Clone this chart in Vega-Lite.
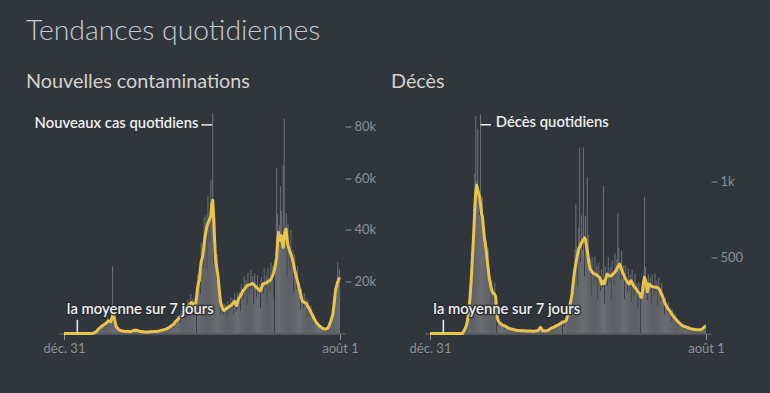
{
  "$schema": "https://vega.github.io/schema/vega-lite/v6.json",
  "background": "#31353c",
  "padding": {"left": 26, "right": 28, "top": 16.5, "bottom": 38},
  "title": {"text": "Tendances quotidiennes", "anchor": "start", "font": "Lato", "fontSize": 28.4, "fontWeight": 300, "color": "#c6cbd3", "offset": 25.5},
  "bounds": "flush",
  "spacing": 80,
  "data": {"values": [
{"date":"2019-12-31","cas":0,"cas7":0,"deces":0,"deces7":0},
{"date":"2020-01-30","cas":0,"cas7":0,"deces":0,"deces7":0},
{"date":"2020-02-27","cas":0,"cas7":0,"deces":0,"deces7":0},
{"date":"2020-02-29","cas":100,"cas7":100,"deces":0,"deces7":0},
{"date":"2020-03-02","cas":100,"cas7":200,"deces":0,"deces7":0},
{"date":"2020-03-04","cas":400,"cas7":300,"deces":0,"deces7":0},
{"date":"2020-03-06","cas":500,"cas7":500,"deces":0,"deces7":0},
{"date":"2020-03-08","cas":600,"cas7":800,"deces":0,"deces7":0},
{"date":"2020-03-10","cas":1600,"cas7":1200,"deces":14,"deces7":12},
{"date":"2020-03-12","cas":1500,"cas7":1700,"deces":13,"deces7":22},
{"date":"2020-03-14","cas":2300,"cas7":2000,"deces":44,"deces7":35},
{"date":"2020-03-16","cas":1400,"cas7":2300,"deces":50,"deces7":50},
{"date":"2020-03-18","cas":3300,"cas7":2600,"deces":60,"deces7":75},
{"date":"2020-03-20","cas":2900,"cas7":2900,"deces":143,"deces7":110},
{"date":"2020-03-22","cas":2600,"cas7":3200,"deces":144,"deces7":160},
{"date":"2020-03-24","cas":4400,"cas7":3400,"deces":273,"deces7":237},
{"date":"2020-03-26","cas":3200,"cas7":3600,"deces":198,"deces7":330},
{"date":"2020-03-28","cas":4500,"cas7":3900,"deces":550,"deces7":440},
{"date":"2020-03-30","cas":2600,"cas7":4300,"deces":560,"deces7":560},
{"date":"2020-04-01","cas":5900,"cas7":4700,"deces":850,"deces7":680},
{"date":"2020-04-03","cas":4900,"cas7":4900,"deces":1050,"deces7":820},
{"date":"2020-04-05","cas":3700,"cas7":4600,"deces":1430,"deces7":930},
{"date":"2020-04-07","cas":5900,"cas7":4500,"deces":1000,"deces7":975},
{"date":"2020-04-09","cas":5000,"cas7":5500,"deces":1347,"deces7":950},
{"date":"2020-04-11","cas":26000,"cas7":7000,"deces":920,"deces7":920},
{"date":"2020-04-13","cas":4600,"cas7":7700,"deces":780,"deces7":900},
{"date":"2020-04-15","cas":6900,"cas7":5500,"deces":1440,"deces7":850},
{"date":"2020-04-17","cas":3800,"cas7":3800,"deces":760,"deces7":790},
{"date":"2020-04-19","cas":2100,"cas7":2600,"deces":900,"deces7":770},
{"date":"2020-04-21","cas":2700,"cas7":2100,"deces":640,"deces7":700},
{"date":"2020-04-23","cas":1500,"cas7":1700,"deces":700,"deces7":632},
{"date":"2020-04-25","cas":1600,"cas7":1400,"deces":560,"deces7":590},
{"date":"2020-04-27","cas":700,"cas7":1200,"deces":610,"deces7":544},
{"date":"2020-04-29","cas":1400,"cas7":1100,"deces":520,"deces7":480},
{"date":"2020-05-01","cas":1000,"cas7":1000,"deces":559,"deces7":430},
{"date":"2020-05-03","cas":700,"cas7":900,"deces":331,"deces7":368},
{"date":"2020-05-05","cas":1200,"cas7":900,"deces":385,"deces7":335},
{"date":"2020-05-07","cas":700,"cas7":800,"deces":182,"deces7":303},
{"date":"2020-05-09","cas":900,"cas7":800,"deces":350,"deces7":280},
{"date":"2020-05-11","cas":500,"cas7":800,"deces":268,"deces7":268},
{"date":"2020-05-13","cas":1100,"cas7":900,"deces":210,"deces7":262},
{"date":"2020-05-15","cas":800,"cas7":800,"deces":332,"deces7":255},
{"date":"2020-05-17","cas":600,"cas7":700,"deces":216,"deces7":240},
{"date":"2020-05-19","cas":1000,"cas7":800,"deces":0,"deces7":130},
{"date":"2020-05-21","cas":800,"cas7":900,"deces":57,"deces7":95},
{"date":"2020-05-23","cas":1200,"cas7":1000,"deces":98,"deces7":78},
{"date":"2020-05-25","cas":700,"cas7":1200,"deces":70,"deces7":70},
{"date":"2020-05-27","cas":1600,"cas7":1300,"deces":52,"deces7":65},
{"date":"2020-05-29","cas":1100,"cas7":1100,"deces":78,"deces7":60},
{"date":"2020-05-31","cas":1000,"cas7":1300,"deces":50,"deces7":56},
{"date":"2020-06-02","cas":1600,"cas7":1200,"deces":61,"deces7":53},
{"date":"2020-06-04","cas":900,"cas7":1000,"deces":30,"deces7":50},
{"date":"2020-06-06","cas":1000,"cas7":900,"deces":60,"deces7":48},
{"date":"2020-06-08","cas":500,"cas7":800,"deces":45,"deces7":45},
{"date":"2020-06-10","cas":1000,"cas7":800,"deces":32,"deces7":40},
{"date":"2020-06-12","cas":700,"cas7":700,"deces":48,"deces7":37},
{"date":"2020-06-14","cas":600,"cas7":700,"deces":32,"deces7":35},
{"date":"2020-06-16","cas":800,"cas7":600,"deces":37,"deces7":32},
{"date":"2020-06-18","cas":500,"cas7":600,"deces":18,"deces7":30},
{"date":"2020-06-20","cas":700,"cas7":600,"deces":36,"deces7":29},
{"date":"2020-06-22","cas":400,"cas7":600,"deces":27,"deces7":27},
{"date":"2020-06-24","cas":800,"cas7":600,"deces":20,"deces7":25},
{"date":"2020-06-26","cas":600,"cas7":600,"deces":31,"deces7":24},
{"date":"2020-06-28","cas":600,"cas7":700,"deces":20,"deces7":22},
{"date":"2020-06-30","cas":900,"cas7":700,"deces":24,"deces7":21},
{"date":"2020-07-02","cas":600,"cas7":700,"deces":12,"deces7":20},
{"date":"2020-07-04","cas":800,"cas7":700,"deces":24,"deces7":19},
{"date":"2020-07-06","cas":500,"cas7":800,"deces":19,"deces7":19},
{"date":"2020-07-08","cas":1000,"cas7":800,"deces":14,"deces7":18},
{"date":"2020-07-10","cas":800,"cas7":800,"deces":26,"deces7":20},
{"date":"2020-07-12","cas":600,"cas7":800,"deces":17,"deces7":19},
{"date":"2020-07-14","cas":1200,"cas7":900,"deces":21,"deces7":18},
{"date":"2020-07-16","cas":800,"cas7":900,"deces":11,"deces7":18},
{"date":"2020-07-18","cas":1200,"cas7":1000,"deces":23,"deces7":18},
{"date":"2020-07-20","cas":700,"cas7":1100,"deces":17,"deces7":17},
{"date":"2020-07-22","cas":1500,"cas7":1200,"deces":14,"deces7":17},
{"date":"2020-07-24","cas":1300,"cas7":1300,"deces":22,"deces7":17},
{"date":"2020-07-26","cas":1100,"cas7":1400,"deces":14,"deces7":16},
{"date":"2020-07-28","cas":2000,"cas7":1500,"deces":18,"deces7":16},
{"date":"2020-07-30","cas":1400,"cas7":1600,"deces":10,"deces7":16},
{"date":"2020-08-01","cas":2000,"cas7":1700,"deces":19,"deces7":15},
{"date":"2020-08-03","cas":1100,"cas7":1900,"deces":15,"deces7":15},
{"date":"2020-08-05","cas":2600,"cas7":2100,"deces":12,"deces7":15},
{"date":"2020-08-07","cas":2300,"cas7":2300,"deces":21,"deces7":16},
{"date":"2020-08-09","cas":2000,"cas7":2500,"deces":15,"deces7":17},
{"date":"2020-08-11","cas":3600,"cas7":2800,"deces":21,"deces7":18},
{"date":"2020-08-13","cas":2700,"cas7":3000,"deces":12,"deces7":20},
{"date":"2020-08-15","cas":3800,"cas7":3300,"deces":31,"deces7":25},
{"date":"2020-08-17","cas":2200,"cas7":3700,"deces":35,"deces7":35},
{"date":"2020-08-19","cas":5100,"cas7":4100,"deces":32,"deces7":40},
{"date":"2020-08-21","cas":4500,"cas7":4500,"deces":39,"deces7":30},
{"date":"2020-08-23","cas":3900,"cas7":4900,"deces":18,"deces7":20},
{"date":"2020-08-25","cas":6900,"cas7":5300,"deces":21,"deces7":18},
{"date":"2020-08-27","cas":5100,"cas7":5700,"deces":10,"deces7":17},
{"date":"2020-08-29","cas":7000,"cas7":6100,"deces":23,"deces7":18},
{"date":"2020-08-31","cas":3900,"cas7":6500,"deces":19,"deces7":19},
{"date":"2020-09-02","cas":8500,"cas7":6800,"deces":16,"deces7":20},
{"date":"2020-09-04","cas":7300,"cas7":7300,"deces":29,"deces7":22},
{"date":"2020-09-06","cas":6200,"cas7":7800,"deces":23,"deces7":26},
{"date":"2020-09-08","cas":10900,"cas7":8400,"deces":35,"deces7":30},
{"date":"2020-09-10","cas":8100,"cas7":9000,"deces":20,"deces7":34},
{"date":"2020-09-12","cas":11000,"cas7":9600,"deces":46,"deces7":37},
{"date":"2020-09-14","cas":6100,"cas7":10100,"deces":40,"deces7":40},
{"date":"2020-09-16","cas":13100,"cas7":10500,"deces":34,"deces7":42},
{"date":"2020-09-18","cas":10900,"cas7":10900,"deces":59,"deces7":45},
{"date":"2020-09-20","cas":9000,"cas7":11300,"deces":43,"deces7":48},
{"date":"2020-09-22","cas":15300,"cas7":11800,"deces":60,"deces7":52},
{"date":"2020-09-24","cas":10800,"cas7":12000,"deces":33,"deces7":55},
{"date":"2020-09-26","cas":13300,"cas7":11600,"deces":73,"deces7":58},
{"date":"2020-09-28","cas":6500,"cas7":10800,"deces":62,"deces7":62},
{"date":"2020-09-30","cas":12500,"cas7":10000,"deces":53,"deces7":66},
{"date":"2020-10-02","cas":11500,"cas7":11500,"deces":91,"deces7":70},
{"date":"2020-10-04","cas":0,"cas7":14000,"deces":0,"deces7":74},
{"date":"2020-10-06","cas":22800,"cas7":17500,"deces":87,"deces7":76},
{"date":"2020-10-08","cas":17600,"cas7":19500,"deces":47,"deces7":78},
{"date":"2020-10-10","cas":23600,"cas7":20500,"deces":100,"deces7":80},
{"date":"2020-10-12","cas":15000,"cas7":25000,"deces":88,"deces7":88},
{"date":"2020-10-14","cas":35000,"cas7":28000,"deces":88,"deces7":110},
{"date":"2020-10-16","cas":29000,"cas7":29000,"deces":176,"deces7":135},
{"date":"2020-10-18","cas":25200,"cas7":31500,"deces":149,"deces7":165},
{"date":"2020-10-20","cas":44900,"cas7":34500,"deces":224,"deces7":195},
{"date":"2020-10-22","cas":33800,"cas7":37500,"deces":135,"deces7":225},
{"date":"2020-10-24","cas":45700,"cas7":39700,"deces":328,"deces7":262},
{"date":"2020-10-26","cas":24900,"cas7":41500,"deces":320,"deces7":320},
{"date":"2020-10-28","cas":53100,"cas7":42500,"deces":304,"deces7":380},
{"date":"2020-10-30","cas":43500,"cas7":43500,"deces":553,"deces7":425},
{"date":"2020-11-01","cas":35400,"cas7":44300,"deces":853,"deces7":460},
{"date":"2020-11-03","cas":59200,"cas7":45500,"deces":569,"deces7":495},
{"date":"2020-11-05","cas":45000,"cas7":50000,"deces":315,"deces7":525},
{"date":"2020-11-07","cas":85000,"cas7":51500,"deces":694,"deces7":555},
{"date":"2020-11-09","cas":27000,"cas7":45000,"deces":1224,"deces7":570},
{"date":"2020-11-11","cas":45000,"cas7":36000,"deces":468,"deces7":585},
{"date":"2020-11-13","cas":28000,"cas7":28000,"deces":777,"deces7":598},
{"date":"2020-11-15","cas":20800,"cas7":26000,"deces":549,"deces7":610},
{"date":"2020-11-17","cas":30600,"cas7":23500,"deces":1224,"deces7":620},
{"date":"2020-11-19","cas":18500,"cas7":20500,"deces":378,"deces7":630},
{"date":"2020-11-21","cas":19000,"cas7":16500,"deces":775,"deces7":620},
{"date":"2020-11-23","cas":7600,"cas7":12600,"deces":580,"deces7":580},
{"date":"2020-11-25","cas":13800,"cas7":11000,"deces":1026,"deces7":544},
{"date":"2020-11-27","cas":10000,"cas7":10000,"deces":650,"deces7":500},
{"date":"2020-11-29","cas":7400,"cas7":9300,"deces":410,"deces7":455},
{"date":"2020-12-01","cas":11600,"cas7":8900,"deces":489,"deces7":425},
{"date":"2020-12-03","cas":8300,"cas7":9200,"deces":249,"deces7":415},
{"date":"2020-12-05","cas":11000,"cas7":9600,"deces":506,"deces7":405},
{"date":"2020-12-07","cas":5900,"cas7":9800,"deces":398,"deces7":398},
{"date":"2020-12-09","cas":12500,"cas7":10000,"deces":314,"deces7":393},
{"date":"2020-12-11","cas":10300,"cas7":10300,"deces":508,"deces7":391},
{"date":"2020-12-13","cas":8500,"cas7":10600,"deces":349,"deces7":388},
{"date":"2020-12-15","cas":14000,"cas7":10800,"deces":442,"deces7":384},
{"date":"2020-12-17","cas":9900,"cas7":11000,"deces":227,"deces7":378},
{"date":"2020-12-19","cas":13200,"cas7":11500,"deces":465,"deces7":372},
{"date":"2020-12-21","cas":7200,"cas7":12000,"deces":368,"deces7":368},
{"date":"2020-12-23","cas":15500,"cas7":12400,"deces":280,"deces7":350},
{"date":"2020-12-25","cas":11500,"cas7":11500,"deces":423,"deces7":325},
{"date":"2020-12-27","cas":8600,"cas7":10800,"deces":302,"deces7":335},
{"date":"2020-12-29","cas":15900,"cas7":12200,"deces":972,"deces7":345},
{"date":"2020-12-31","cas":12000,"cas7":13300,"deces":198,"deces7":330},
{"date":"2021-01-02","cas":16000,"cas7":13900,"deces":438,"deces7":350},
{"date":"2021-01-04","cas":8800,"cas7":14600,"deces":375,"deces7":375},
{"date":"2021-01-06","cas":19000,"cas7":15200,"deces":313,"deces7":391},
{"date":"2021-01-08","cas":16000,"cas7":16000,"deces":501,"deces7":385},
{"date":"2021-01-10","cas":13300,"cas7":16600,"deces":342,"deces7":380},
{"date":"2021-01-12","cas":22100,"cas7":17000,"deces":435,"deces7":378},
{"date":"2021-01-14","cas":15800,"cas7":17500,"deces":228,"deces7":380},
{"date":"2021-01-16","cas":20700,"cas7":18000,"deces":480,"deces7":384},
{"date":"2021-01-18","cas":11100,"cas7":18500,"deces":390,"deces7":390},
{"date":"2021-01-20","cas":23400,"cas7":18700,"deces":318,"deces7":398},
{"date":"2021-01-22","cas":18800,"cas7":18800,"deces":527,"deces7":405},
{"date":"2021-01-24","cas":15100,"cas7":18900,"deces":371,"deces7":412},
{"date":"2021-01-26","cas":24700,"cas7":19000,"deces":489,"deces7":425},
{"date":"2021-01-28","cas":17300,"cas7":19200,"deces":788,"deces7":438},
{"date":"2021-01-30","cas":22200,"cas7":19300,"deces":563,"deces7":450},
{"date":"2021-02-01","cas":11400,"cas7":19000,"deces":456,"deces7":456},
{"date":"2021-02-03","cas":23300,"cas7":18600,"deces":352,"deces7":440},
{"date":"2021-02-05","cas":18200,"cas7":18200,"deces":546,"deces7":420},
{"date":"2021-02-07","cas":14200,"cas7":17800,"deces":360,"deces7":400},
{"date":"2021-02-09","cas":22600,"cas7":17400,"deces":449,"deces7":390},
{"date":"2021-02-11","cas":15300,"cas7":17000,"deces":225,"deces7":375},
{"date":"2021-02-13","cas":19100,"cas7":16600,"deces":450,"deces7":360},
{"date":"2021-02-15","cas":9900,"cas7":16500,"deces":350,"deces7":350},
{"date":"2021-02-17","cas":21800,"cas7":17400,"deces":272,"deces7":340},
{"date":"2021-02-19","cas":18600,"cas7":18600,"deces":429,"deces7":330},
{"date":"2021-02-21","cas":15400,"cas7":19200,"deces":293,"deces7":325},
{"date":"2021-02-23","cas":25100,"cas7":19300,"deces":391,"deces7":340},
{"date":"2021-02-25","cas":17500,"cas7":19400,"deces":208,"deces7":347},
{"date":"2021-02-27","cas":22400,"cas7":19500,"deces":419,"deces7":335},
{"date":"2021-03-01","cas":11900,"cas7":19800,"deces":320,"deces7":320},
{"date":"2021-03-03","cas":25300,"cas7":20200,"deces":248,"deces7":310},
{"date":"2021-03-05","cas":20300,"cas7":20300,"deces":394,"deces7":303},
{"date":"2021-03-07","cas":16300,"cas7":20400,"deces":266,"deces7":295},
{"date":"2021-03-09","cas":27300,"cas7":21000,"deces":328,"deces7":285},
{"date":"2021-03-11","cas":19600,"cas7":21800,"deces":165,"deces7":275},
{"date":"2021-03-13","cas":26000,"cas7":22600,"deces":335,"deces7":268},
{"date":"2021-03-15","cas":14200,"cas7":23600,"deces":262,"deces7":262},
{"date":"2021-03-17","cas":0,"cas7":25000,"deces":0,"deces7":245},
{"date":"2021-03-19","cas":27200,"cas7":27200,"deces":308,"deces7":237},
{"date":"2021-03-21","cas":64000,"cas7":29400,"deces":252,"deces7":280},
{"date":"2021-03-23","cas":46200,"cas7":35500,"deces":391,"deces7":340},
{"date":"2021-03-25","cas":35100,"cas7":39000,"deces":895,"deces7":368},
{"date":"2021-03-27","cas":42000,"cas7":36500,"deces":438,"deces7":350},
{"date":"2021-03-29","cas":57000,"cas7":36000,"deces":330,"deces7":330},
{"date":"2021-03-31","cas":47300,"cas7":37800,"deces":220,"deces7":275},
{"date":"2021-04-02","cas":35000,"cas7":35000,"deces":390,"deces7":300},
{"date":"2021-04-04","cas":65000,"cas7":33300,"deces":293,"deces7":325},
{"date":"2021-04-06","cas":83000,"cas7":37500,"deces":368,"deces7":320},
{"date":"2021-04-08","cas":35600,"cas7":39500,"deces":187,"deces7":312},
{"date":"2021-04-10","cas":46500,"cas7":40400,"deces":388,"deces7":310},
{"date":"2021-04-12","cas":21900,"cas7":36500,"deces":308,"deces7":308},
{"date":"2021-04-14","cas":42500,"cas7":34000,"deces":245,"deces7":306},
{"date":"2021-04-16","cas":32800,"cas7":32800,"deces":397,"deces7":305},
{"date":"2021-04-18","cas":25300,"cas7":31600,"deces":274,"deces7":304},
{"date":"2021-04-20","cas":39900,"cas7":30700,"deces":348,"deces7":303},
{"date":"2021-04-22","cas":26600,"cas7":29500,"deces":180,"deces7":300},
{"date":"2021-04-24","cas":32300,"cas7":28100,"deces":369,"deces7":295},
{"date":"2021-04-26","cas":15900,"cas7":26500,"deces":285,"deces7":285},
{"date":"2021-04-28","cas":30600,"cas7":24500,"deces":216,"deces7":270},
{"date":"2021-04-30","cas":23000,"cas7":23000,"deces":332,"deces7":255},
{"date":"2021-05-02","cas":17200,"cas7":21500,"deces":216,"deces7":240},
{"date":"2021-05-04","cas":26000,"cas7":20000,"deces":259,"deces7":225},
{"date":"2021-05-06","cas":16700,"cas7":18500,"deces":123,"deces7":205},
{"date":"2021-05-08","cas":19600,"cas7":17000,"deces":241,"deces7":193},
{"date":"2021-05-10","cas":9300,"cas7":15500,"deces":180,"deces7":180},
{"date":"2021-05-12","cas":17300,"cas7":13800,"deces":136,"deces7":170},
{"date":"2021-05-14","cas":12600,"cas7":12600,"deces":208,"deces7":160},
{"date":"2021-05-16","cas":9800,"cas7":12200,"deces":137,"deces7":152},
{"date":"2021-05-18","cas":15600,"cas7":12000,"deces":167,"deces7":145},
{"date":"2021-05-20","cas":10700,"cas7":11900,"deces":81,"deces7":135},
{"date":"2021-05-22","cas":13500,"cas7":11700,"deces":156,"deces7":125},
{"date":"2021-05-24","cas":6600,"cas7":11000,"deces":115,"deces7":115},
{"date":"2021-05-26","cas":12900,"cas7":10300,"deces":86,"deces7":108},
{"date":"2021-05-28","cas":9700,"cas7":9700,"deces":130,"deces7":100},
{"date":"2021-05-30","cas":7200,"cas7":9000,"deces":83,"deces7":92},
{"date":"2021-06-01","cas":10700,"cas7":8200,"deces":98,"deces7":85},
{"date":"2021-06-03","cas":6800,"cas7":7500,"deces":47,"deces7":78},
{"date":"2021-06-05","cas":7800,"cas7":6800,"deces":90,"deces7":72},
{"date":"2021-06-07","cas":3600,"cas7":6000,"deces":66,"deces7":66},
{"date":"2021-06-09","cas":6600,"cas7":5300,"deces":48,"deces7":60},
{"date":"2021-06-11","cas":4600,"cas7":4600,"deces":72,"deces7":55},
{"date":"2021-06-13","cas":3300,"cas7":4100,"deces":47,"deces7":52},
{"date":"2021-06-15","cas":4800,"cas7":3700,"deces":55,"deces7":48},
{"date":"2021-06-17","cas":3000,"cas7":3300,"deces":28,"deces7":46},
{"date":"2021-06-19","cas":3300,"cas7":2900,"deces":55,"deces7":44},
{"date":"2021-06-21","cas":1600,"cas7":2600,"deces":42,"deces7":42},
{"date":"2021-06-23","cas":2900,"cas7":2300,"deces":32,"deces7":40},
{"date":"2021-06-25","cas":2100,"cas7":2100,"deces":49,"deces7":38},
{"date":"2021-06-27","cas":1500,"cas7":1900,"deces":32,"deces7":35},
{"date":"2021-06-29","cas":2300,"cas7":1800,"deces":37,"deces7":32},
{"date":"2021-07-01","cas":1500,"cas7":1700,"deces":18,"deces7":30},
{"date":"2021-07-03","cas":2100,"cas7":1800,"deces":36,"deces7":29},
{"date":"2021-07-05","cas":1200,"cas7":2000,"deces":28,"deces7":28},
{"date":"2021-07-07","cas":2900,"cas7":2300,"deces":22,"deces7":27},
{"date":"2021-07-09","cas":3000,"cas7":3000,"deces":34,"deces7":26},
{"date":"2021-07-11","cas":3100,"cas7":3900,"deces":23,"deces7":25},
{"date":"2021-07-13","cas":6500,"cas7":5000,"deces":28,"deces7":24},
{"date":"2021-07-15","cas":5600,"cas7":6200,"deces":14,"deces7":24},
{"date":"2021-07-17","cas":8600,"cas7":7500,"deces":30,"deces7":24},
{"date":"2021-07-19","cas":6300,"cas7":10500,"deces":25,"deces7":25},
{"date":"2021-07-21","cas":17500,"cas7":14000,"deces":21,"deces7":26},
{"date":"2021-07-23","cas":17000,"cas7":17000,"deces":36,"deces7":28},
{"date":"2021-07-25","cas":14800,"cas7":18500,"deces":29,"deces7":32},
{"date":"2021-07-27","cas":27500,"cas7":19800,"deces":44,"deces7":38},
{"date":"2021-07-29","cas":18700,"cas7":20800,"deces":27,"deces7":45},
{"date":"2021-07-31","cas":25000,"cas7":21700,"deces":63,"deces7":50}
  ]},
  "hconcat": [
    {
      "width": 286,
      "height": 220,
      "title": {"text": "Nouvelles contaminations", "anchor": "start", "frame": "group", "dx": -33, "font": "Lato", "fontSize": 19.8, "fontWeight": 400, "color": "#d6d1c9", "offset": 22},
      "layer": [
        {
          "mark": {"type": "bar", "color": "#6a6c71", "size": 1.1},
          "encoding": {
            "x": {"field": "date", "type": "temporal", "title": null,
              "scale": {"type": "utc", "domain": [{"year": 2019, "month": 12, "date": 31, "utc": true}, {"year": 2021, "month": 8, "date": 1, "utc": true}]},
              "axis": {"values": [{"year": 2019, "month": 12, "date": 31, "utc": true}, {"year": 2021, "month": 8, "date": 1, "utc": true}], "labelExpr": "utcmonth(datum.value) == 11 ? 'déc. 31' : 'août 1'", "labelFlush": false, "grid": false, "tickSize": 6, "labelPadding": 3}},
            "y": {"field": "cas", "type": "quantitative", "title": null,
              "scale": {"domain": [0, 85000], "nice": false},
              "axis": {"orient": "right", "values": [20000, 40000, 60000, 80000], "labelExpr": "(datum.value / 1000) + 'k'", "domain": false, "grid": false, "tickSize": 6, "labelPadding": 3}}
          }
        },
        {
          "mark": {"type": "line", "color": "#e8c44c", "strokeWidth": 3, "strokeJoin": "round"},
          "encoding": {
            "x": {"field": "date", "type": "temporal", "title": null, "scale": {"type": "utc", "domain": [{"year": 2019, "month": 12, "date": 31, "utc": true}, {"year": 2021, "month": 8, "date": 1, "utc": true}]}},
            "y": {"field": "cas7", "type": "quantitative", "title": null}
          }
        },
        {
          "data": {"values": [{"debut": "2020-10-14", "fin": "2020-11-06", "valeur": 80600}]},
          "mark": {"type": "rule", "color": "#eeeeee", "strokeWidth": 1.5},
          "encoding": {
            "x": {"field": "debut", "type": "temporal", "title": null, "scale": {"type": "utc"}},
            "x2": {"field": "fin"},
            "y": {"field": "valeur", "type": "quantitative", "title": null}
          }
        },
        {
          "data": {"values": [{"date": "2020-10-08", "valeur": 79300, "texte": "Nouveaux cas quotidiens"}]},
          "mark": {"type": "text", "align": "right", "baseline": "alphabetic", "font": "Lato", "fontSize": 14.8, "fontWeight": 600, "color": "#eeeeee"},
          "encoding": {
            "x": {"field": "date", "type": "temporal", "title": null, "scale": {"type": "utc"}},
            "y": {"field": "valeur", "type": "quantitative", "title": null},
            "text": {"field": "texte"}
          }
        },
        {
          "data": {"values": [{"date": "2020-01-28", "valeur": 5300}]},
          "mark": {"type": "rule", "color": "#eeeeee", "strokeWidth": 1.5},
          "encoding": {
            "x": {"field": "date", "type": "temporal", "title": null, "scale": {"type": "utc"}},
            "y": {"field": "valeur", "type": "quantitative", "title": null},
            "y2": {"datum": 0}
          }
        },
        {
          "data": {"values": [{"date": "2020-01-06", "valeur": 7700, "texte": "la moyenne sur 7 jours"}]},
          "encoding": {
            "x": {"field": "date", "type": "temporal", "title": null, "scale": {"type": "utc"}},
            "y": {"field": "valeur", "type": "quantitative", "title": null},
            "text": {"field": "texte"}
          },
          "layer": [
            {"mark": {"type": "text", "align": "left", "baseline": "alphabetic", "font": "Lato", "fontSize": 14.8, "fontWeight": 600, "color": "#2a2d33", "stroke": "#2a2d33", "strokeWidth": 3, "strokeOpacity": 0.85, "strokeJoin": "round"}},
            {"mark": {"type": "text", "align": "left", "baseline": "alphabetic", "font": "Lato", "fontSize": 14.8, "fontWeight": 600, "color": "#eeeeee"}}
          ]
        }
      ]
    },
    {
      "width": 286,
      "height": 220,
      "title": {"text": "Décès", "anchor": "start", "frame": "group", "dx": -34, "font": "Lato", "fontSize": 19.8, "fontWeight": 400, "color": "#d6d1c9", "offset": 22},
      "layer": [
        {
          "mark": {"type": "bar", "color": "#6a6c71", "size": 1.1},
          "encoding": {
            "x": {"field": "date", "type": "temporal", "title": null,
              "scale": {"type": "utc", "domain": [{"year": 2019, "month": 12, "date": 31, "utc": true}, {"year": 2021, "month": 8, "date": 1, "utc": true}]},
              "axis": {"values": [{"year": 2019, "month": 12, "date": 31, "utc": true}, {"year": 2021, "month": 8, "date": 1, "utc": true}], "labelExpr": "utcmonth(datum.value) == 11 ? 'déc. 31' : 'août 1'", "labelFlush": false, "grid": false, "tickSize": 6, "labelPadding": 3}},
            "y": {"field": "deces", "type": "quantitative", "title": null,
              "scale": {"domain": [0, 1447], "nice": false},
              "axis": {"orient": "right", "values": [500, 1000], "labelExpr": "datum.value >= 1000 ? '1k' : '500'", "domain": false, "grid": false, "tickSize": 6, "labelPadding": 3}}
          }
        },
        {
          "mark": {"type": "line", "color": "#e8c44c", "strokeWidth": 3, "strokeJoin": "round"},
          "encoding": {
            "x": {"field": "date", "type": "temporal", "title": null, "scale": {"type": "utc", "domain": [{"year": 2019, "month": 12, "date": 31, "utc": true}, {"year": 2021, "month": 8, "date": 1, "utc": true}]}},
            "y": {"field": "deces7", "type": "quantitative", "title": null}
          }
        },
        {
          "data": {"values": [{"debut": "2020-04-15", "fin": "2020-05-07", "valeur": 1373}]},
          "mark": {"type": "rule", "color": "#eeeeee", "strokeWidth": 1.5},
          "encoding": {
            "x": {"field": "debut", "type": "temporal", "title": null, "scale": {"type": "utc"}},
            "x2": {"field": "fin"},
            "y": {"field": "valeur", "type": "quantitative", "title": null}
          }
        },
        {
          "data": {"values": [{"date": "2020-05-17", "valeur": 1355, "texte": "Décès quotidiens"}]},
          "mark": {"type": "text", "align": "left", "baseline": "alphabetic", "font": "Lato", "fontSize": 14.8, "fontWeight": 600, "color": "#eeeeee"},
          "encoding": {
            "x": {"field": "date", "type": "temporal", "title": null, "scale": {"type": "utc"}},
            "y": {"field": "valeur", "type": "quantitative", "title": null},
            "text": {"field": "texte"}
          }
        },
        {
          "data": {"values": [{"date": "2020-01-28", "valeur": 90}]},
          "mark": {"type": "rule", "color": "#eeeeee", "strokeWidth": 1.5},
          "encoding": {
            "x": {"field": "date", "type": "temporal", "title": null, "scale": {"type": "utc"}},
            "y": {"field": "valeur", "type": "quantitative", "title": null},
            "y2": {"datum": 0}
          }
        },
        {
          "data": {"values": [{"date": "2020-01-07", "valeur": 131, "texte": "la moyenne sur 7 jours"}]},
          "encoding": {
            "x": {"field": "date", "type": "temporal", "title": null, "scale": {"type": "utc"}},
            "y": {"field": "valeur", "type": "quantitative", "title": null},
            "text": {"field": "texte"}
          },
          "layer": [
            {"mark": {"type": "text", "align": "left", "baseline": "alphabetic", "font": "Lato", "fontSize": 14.8, "fontWeight": 600, "color": "#2a2d33", "stroke": "#2a2d33", "strokeWidth": 3, "strokeOpacity": 0.85, "strokeJoin": "round"}},
            {"mark": {"type": "text", "align": "left", "baseline": "alphabetic", "font": "Lato", "fontSize": 14.8, "fontWeight": 600, "color": "#eeeeee"}}
          ]
        }
      ]
    }
  ],
  "resolve": {"scale": {"y": "independent", "x": "independent"}},
  "config": {
    "view": {"stroke": null},
    "axis": {"labelFont": "Lato", "labelFontSize": 13, "labelColor": "#8b8f96", "tickColor": "#8b8f96", "domainColor": "#70737a", "tickWidth": 1}
  }
}
